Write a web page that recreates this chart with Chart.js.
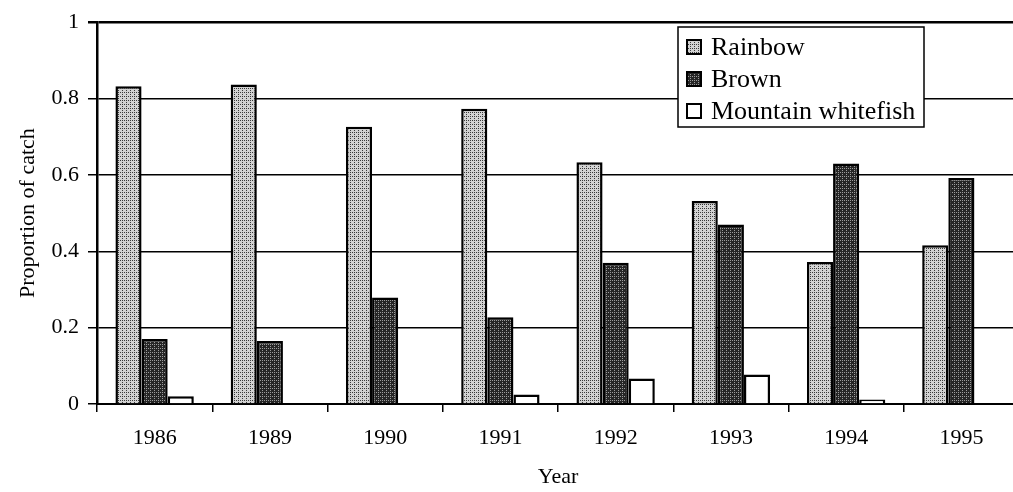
<!DOCTYPE html>
<html>
<head>
<meta charset="utf-8">
<script src="https://cdn.jsdelivr.net/npm/chart.js@4"></script>
<style>
    html, body { margin: 0; padding: 0; background: #fff; overflow: hidden; }
    #wrap { width: 1024px; height: 492px; }
</style>
</head>
<body>
<div id="wrap"><canvas id="catchChart"></canvas></div>
<script>
// data
const years = ['1986', '1989', '1990', '1991', '1992', '1993', '1994', '1995'];
const rainbow = [0.832, 0.837, 0.726, 0.773, 0.633, 0.532, 0.372, 0.416];
const brown = [0.170, 0.165, 0.279, 0.227, 0.370, 0.470, 0.630, 0.592];
const whitefish = [0.020, 0, 0, 0.025, 0.067, 0.077, 0.012, 0];
const yTicks = [0, 0.2, 0.4, 0.6, 0.8, 1];

const serif = "'Liberation Serif', 'Times New Roman', serif";

function makePattern(bg, dot) {
    const c = document.createElement('canvas');
    c.width = 4;
    c.height = 4;
    const g = c.getContext('2d');
    g.fillStyle = bg;
    g.fillRect(0, 0, 4, 4);
    g.fillStyle = dot;
    g.fillRect(0, 0, 1, 1);
    g.fillRect(2, 2, 1, 1);
    g.fillRect(2, 0, 1, 1);
    return g.createPattern(c, 'repeat');
}

const rainbowFill = makePattern('#d2d2d2', '#3a3a3a');
const brownFill = makePattern('#262626', '#9c9c9c');

// legend box drawn inside the plot, like the original
const boxLegend = {
    id: 'boxLegend',
    afterDraw(chart) {
        const ctx = chart.ctx;
        const x = 678, y = 27, w = 246, h = 100;
        ctx.save();
        ctx.fillStyle = '#fff';
        ctx.fillRect(x, y, w, h);
        ctx.strokeStyle = '#000';
        ctx.lineWidth = 1.5;
        ctx.strokeRect(x, y, w, h);
        ctx.font = '26px ' + serif;
        ctx.textBaseline = 'middle';
        chart.data.datasets.forEach((ds, i) => {
            const cy = y + 20 + i * 32;
            ctx.fillStyle = ds.backgroundColor;
            ctx.fillRect(x + 9, cy - 7, 14, 14);
            ctx.lineWidth = 2;
            ctx.strokeRect(x + 9, cy - 7, 14, 14);
            ctx.fillStyle = '#000';
            ctx.fillText(ds.label, x + 33, cy + 1);
        });
        ctx.restore();
    }
};

new Chart(document.getElementById('catchChart'), {
    type: 'bar',
    data: {
        labels: years,
        datasets: [
            { label: 'Rainbow', data: rainbow, backgroundColor: rainbowFill },
            { label: 'Brown', data: brown, backgroundColor: brownFill },
            { label: 'Mountain whitefish', data: whitefish, backgroundColor: '#fff' }
        ]
    },
    options: {
        responsive: true,
        maintainAspectRatio: false,
        animation: false,
        layout: { padding: { top: 17, right: 5, left: 0, bottom: 0 } },
        datasets: {
            bar: {
                borderColor: '#000',
                borderWidth: 2.5,
                barPercentage: 1,
                categoryPercentage: 0.68
            }
        },
        plugins: {
            legend: { display: false },
            tooltip: { enabled: false }
        },
        scales: {
            x: {
                grid: {
                    drawOnChartArea: false,
                    drawTicks: true,
                    tickLength: 8,
                    color: '#000',
                    lineWidth: 1.5
                },
                border: { color: '#000', width: 2 },
                ticks: {
                    color: '#000',
                    padding: 13,
                    maxRotation: 0,
                    font: { family: serif, size: 22 }
                },
                title: {
                    display: true,
                    text: 'Year',
                    color: '#000',
                    padding: { top: 0, bottom: 2 },
                    font: { family: serif, size: 22 }
                },
                afterFit(scale) { scale.height = 88; }
            },
            y: {
                min: 0,
                max: 1,
                afterBuildTicks(scale) {
                    scale.ticks = yTicks.map(v => ({ value: v }));
                },
                grid: {
                    color: '#000',
                    lineWidth: ctx => (ctx.tick && ctx.tick.value === 1 ? 2.5 : 1.5),
                    tickLength: 9
                },
                border: { color: '#000', width: 2.5 },
                ticks: {
                    color: '#000',
                    padding: 9,
                    font: { family: serif, size: 22 },
                    callback: v => String(v)
                },
                title: {
                    display: true,
                    text: 'Proportion of catch',
                    color: '#000',
                    padding: { top: 15, bottom: 0 },
                    font: { family: serif, size: 22 }
                },
                afterFit(scale) { scale.width = 97; }
            }
        }
    },
    plugins: [boxLegend]
});
</script>
</body>
</html>
